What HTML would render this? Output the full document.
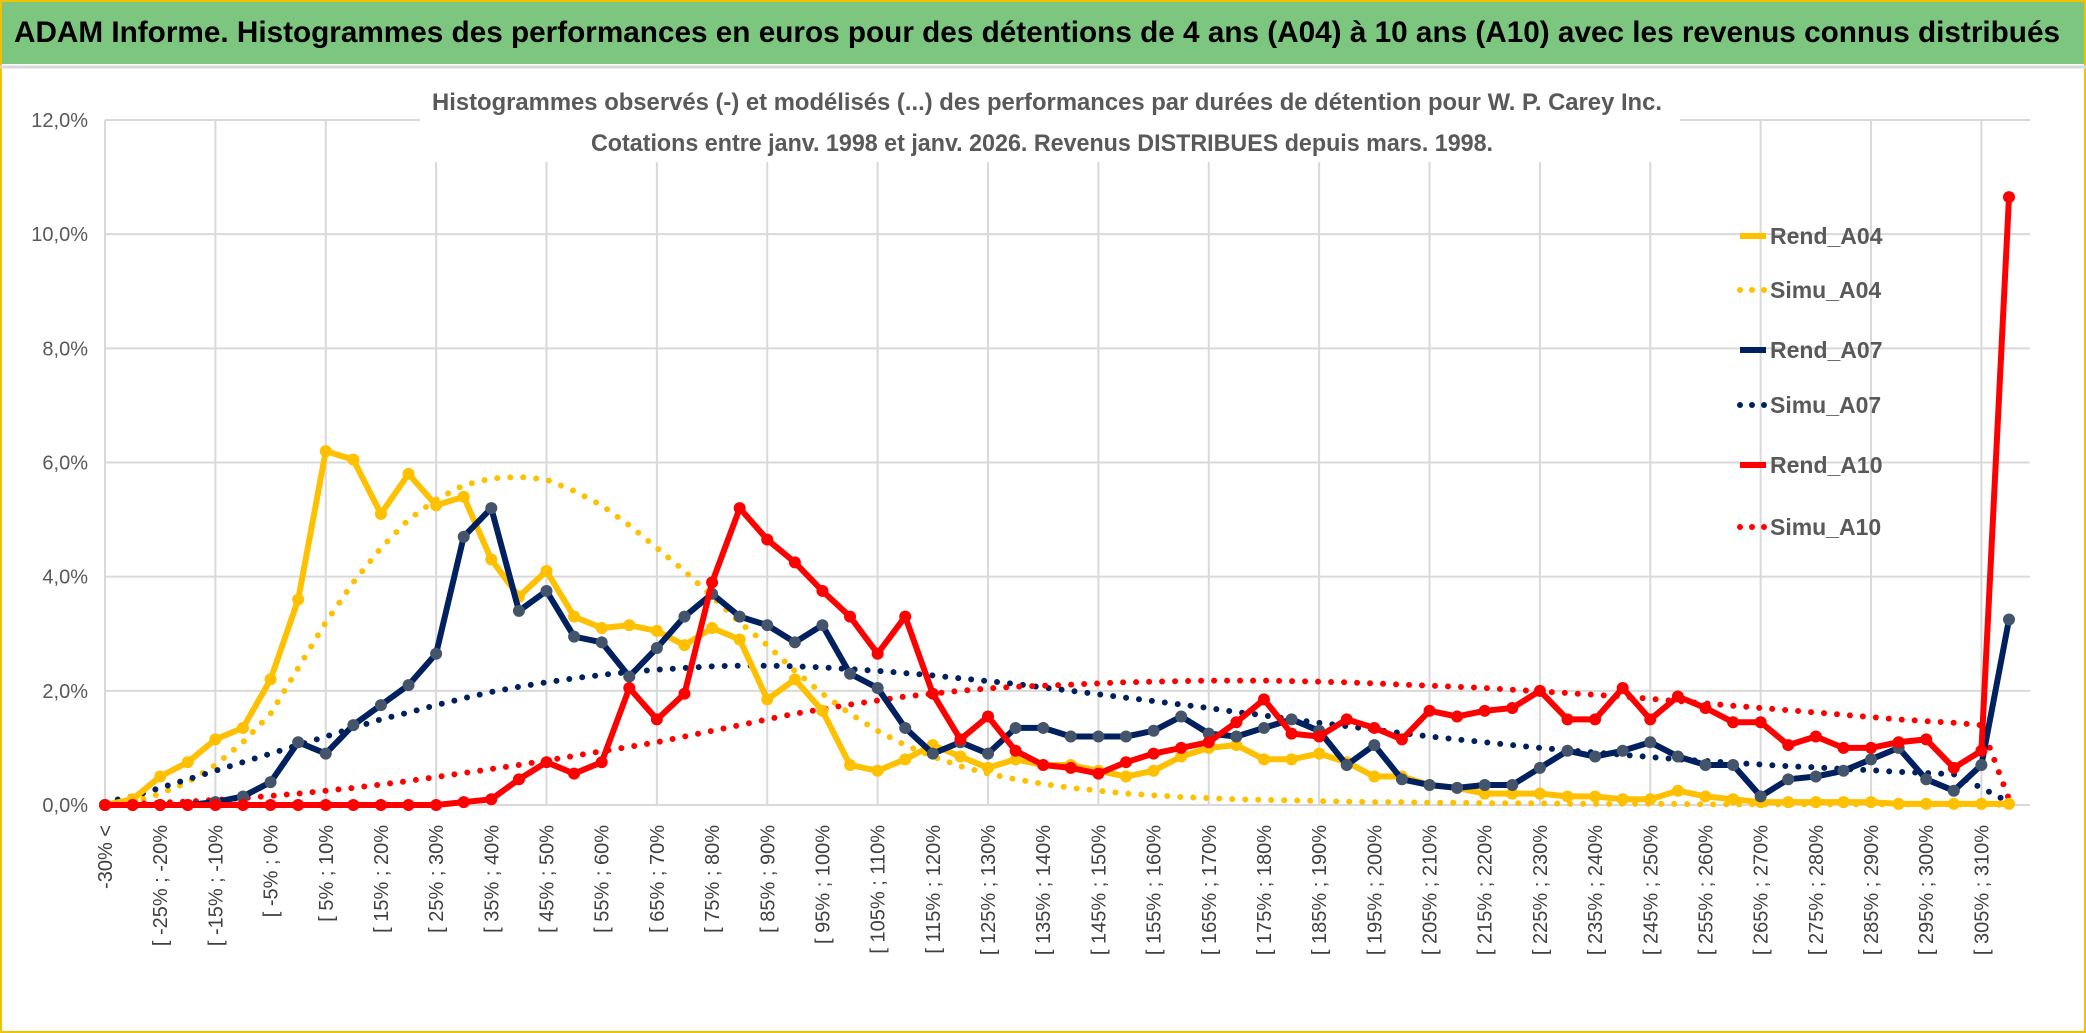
<!DOCTYPE html>
<html><head><meta charset="utf-8"><style>
html,body{margin:0;padding:0;background:#fff;}
svg{display:block;font-family:"Liberation Sans",sans-serif;}
</style></head><body>
<svg id="chart" width="2086" height="1033" viewBox="0 0 2086 1033" xmlns="http://www.w3.org/2000/svg">
<rect x="0" y="0" width="2086" height="1033" fill="#fff"/>
<rect x="1" y="1" width="2084" height="1031" fill="none" stroke="#f2c200" stroke-width="2"/>
<rect x="2" y="2" width="2082" height="62" fill="#7dc67f"/>
<line x1="0" y1="67" x2="2086" y2="67" stroke="#d9d9d9" stroke-width="3"/>
<text x="14" y="42" font-size="30" font-weight="bold" fill="#000" textLength="2046" lengthAdjust="spacingAndGlyphs">ADAM Informe. Histogrammes des performances en euros pour des détentions de 4 ans (A04) à 10 ans (A10) avec les revenus connus distribués</text>
<g id="grid"></g>
<rect x="420" y="82" width="1260" height="80" fill="#fff"/>
<text x="1047" y="110" font-size="24" font-weight="bold" fill="#595959" text-anchor="middle" textLength="1230" lengthAdjust="spacingAndGlyphs">Histogrammes observés (-) et modélisés (...) des performances par durées de détention pour W. P. Carey Inc.</text>
<text x="1042" y="151" font-size="24" font-weight="bold" fill="#595959" text-anchor="middle" textLength="902" lengthAdjust="spacingAndGlyphs">Cotations entre janv. 1998 et janv. 2026. Revenus DISTRIBUES depuis mars. 1998.</text>
<g id="yticks"></g>
<g id="xticks"></g>
<g id="series"></g>
<g id="legend"></g>
</svg>
<script>
const categories = (function(){const a=["-30% <"];for(let v=-30;v<315;v+=5){a.push("[ "+v+"% ; "+(v+5)+"%");}return a;})();
const yTicks = [0,2,4,6,8,10,12];
const yTickLabels = ["0,0%","2,0%","4,0%","6,0%","8,0%","10,0%","12,0%"];
const rendA04 = [0,0.1,0.5,0.75,1.15,1.35,2.2,3.6,6.2,6.05,5.1,5.8,5.25,5.4,4.3,3.65,4.1,3.3,3.1,3.15,3.05,2.8,3.1,2.9,1.85,2.2,1.65,0.7,0.6,0.8,1.05,0.85,0.65,0.8,0.7,0.7,0.6,0.5,0.6,0.85,1.0,1.05,0.8,0.8,0.9,0.75,0.5,0.5,0.35,0.3,0.2,0.2,0.2,0.15,0.15,0.1,0.1,0.25,0.15,0.1,0.05,0.05,0.05,0.05,0.05,0.02,0.02,0.02,0.02,0.02];
const simuA04 = [0,0.05,0.2,0.4,0.7,1.1,1.6,2.4,3.2,3.9,4.5,5.0,5.35,5.6,5.72,5.75,5.7,5.5,5.25,4.9,4.5,4.1,3.65,3.2,2.8,2.35,1.95,1.6,1.3,1.05,0.85,0.68,0.55,0.45,0.37,0.3,0.25,0.2,0.17,0.14,0.12,0.1,0.09,0.08,0.07,0.06,0.05,0.05,0.04,0.04,0.03,0.03,0.03,0.02,0.02,0.02,0.02,0.02,0.01,0.01,0.01,0.01,0.01,0.01,0.01,0.01,0.01,0.01,0.01,0];
const rendA07 = [0,0,0,0,0.05,0.15,0.4,1.1,0.9,1.4,1.75,2.1,2.65,4.7,5.2,3.4,3.75,2.95,2.85,2.25,2.75,3.3,3.7,3.3,3.15,2.85,3.15,2.3,2.05,1.35,0.9,1.1,0.9,1.35,1.35,1.2,1.2,1.2,1.3,1.55,1.25,1.2,1.35,1.5,1.3,0.7,1.05,0.45,0.35,0.3,0.35,0.35,0.65,0.95,0.85,0.95,1.1,0.85,0.7,0.7,0.15,0.45,0.5,0.6,0.8,1.0,0.45,0.25,0.7,3.25];
const simuA07 = [0.05,0.15,0.3,0.45,0.6,0.75,0.9,1.05,1.2,1.35,1.5,1.62,1.75,1.87,1.98,2.07,2.15,2.22,2.28,2.33,2.37,2.4,2.43,2.44,2.44,2.43,2.41,2.38,2.35,2.31,2.27,2.22,2.17,2.12,2.06,2.0,1.94,1.88,1.82,1.76,1.7,1.63,1.57,1.5,1.44,1.38,1.32,1.26,1.2,1.15,1.1,1.05,1.0,0.96,0.92,0.88,0.84,0.8,0.77,0.74,0.71,0.68,0.66,0.63,0.61,0.58,0.56,0.54,0.3,0.05];
const rendA10 = [0,0,0,0,0,0,0,0,0,0,0,0,0,0.05,0.1,0.45,0.75,0.55,0.75,2.05,1.5,1.95,3.9,5.2,4.65,4.25,3.75,3.3,2.65,3.3,1.95,1.15,1.55,0.95,0.7,0.65,0.55,0.75,0.9,1.0,1.1,1.45,1.85,1.25,1.2,1.5,1.35,1.15,1.65,1.55,1.65,1.7,2.0,1.5,1.5,2.05,1.5,1.9,1.7,1.45,1.45,1.05,1.2,1.0,1.0,1.1,1.15,0.65,0.95,10.65];
const simuA10 = [0,0.02,0.04,0.06,0.09,0.12,0.16,0.2,0.25,0.3,0.36,0.42,0.49,0.56,0.63,0.7,0.78,0.86,0.94,1.02,1.1,1.2,1.3,1.4,1.5,1.6,1.68,1.76,1.83,1.9,1.95,2.0,2.04,2.07,2.09,2.11,2.13,2.15,2.16,2.17,2.18,2.18,2.18,2.17,2.16,2.15,2.13,2.11,2.09,2.07,2.05,2.02,1.99,1.96,1.93,1.9,1.86,1.82,1.78,1.74,1.7,1.66,1.62,1.58,1.54,1.5,1.47,1.44,1.4,0.1];

const NS="http://www.w3.org/2000/svg";
const X0=105, X1=2009, Y0=805, Y1=120, YMAX=12;
function xPos(i){return X0+(X1-X0)*i/(categories.length-1);}
function yPos(v){return Y0-(Y0-Y1)*v/YMAX;}
function mk(tag,attrs,parent){const e=document.createElementNS(NS,tag);for(const k in attrs)e.setAttribute(k,attrs[k]);parent.appendChild(e);return e;}

const grid=document.getElementById('grid');
yTicks.forEach(function(t){
  const l=mk('line',{x1:X0,x2:2030,y1:yPos(t),y2:yPos(t),stroke:'#d9d9d9','stroke-width':2},grid);
  
  
});
for(let i=0;i<categories.length;i+=4){
  const l=mk('line',{x1:xPos(i),x2:xPos(i),y1:Y1,y2:Y0,stroke:'#d9d9d9','stroke-width':2},grid);
  
  
}
const yt=document.getElementById('yticks');
yTicks.forEach(function(t,k){
  const tx=mk('text',{x:88,y:yPos(t)+7,'font-size':20,fill:'#595959','text-anchor':'end'},yt);
  tx.textContent=yTickLabels[k];
  
  
});
const xt=document.getElementById('xticks');
for(let i=0;i<categories.length;i+=2){
  const x=xPos(i)+7;
  const tx=mk('text',{x:x,y:825,'font-size':20,fill:'#404040','text-anchor':'end',transform:'rotate(-90 '+x+' 825)'},xt);
  tx.textContent=categories[i];
  
  
}
const ser=document.getElementById('series');
function pts(arr){return arr.map(function(v,i){return xPos(i).toFixed(1)+','+yPos(v).toFixed(1);}).join(' ');}
function dotted(arr,color,name){
  const p=mk('polyline',{points:pts(arr),fill:'none',stroke:color,'stroke-width':6,'stroke-linecap':'round','stroke-dasharray':'0 13'},ser);
  
  
}
function solid(arr,color,mcolor,name){
  const g=mk('g',{},ser);
  
  
  const p=mk('polyline',{points:pts(arr),fill:'none',stroke:color,'stroke-width':6,'stroke-linejoin':'round'},g);
  
  
  arr.forEach(function(v,i){
    const c=mk('circle',{cx:xPos(i),cy:yPos(v),r:6,fill:mcolor},g);
    
    
  });
}
dotted(simuA04,'#ffc000','simu-a04');
dotted(simuA07,'#002060','simu-a07');
dotted(simuA10,'#ff0000','simu-a10');
solid(rendA04,'#ffc000','#ffc000','rend-a04');
solid(rendA07,'#002060','#44546a','rend-a07');
solid(rendA10,'#ff0000','#ff0000','rend-a10');

const leg=document.getElementById('legend');
const legendNames=["Rend_A04","Simu_A04","Rend_A07","Simu_A07","Rend_A10","Simu_A10"];
const legendColors=['#ffc000','#ffc000','#002060','#002060','#ff0000','#ff0000'];
const legendY=[236,290,350,405,465,527];
legendNames.forEach(function(n,k){
  const y=legendY[k];
  const dash=(k%2===1);
  const l=mk('line',{x1:1740,x2:1766,y1:y,y2:y,stroke:legendColors[k],'stroke-width':6,'stroke-linecap':dash?'round':'butt'},leg);
  if(dash)l.setAttribute('stroke-dasharray','0 12');
  
  
  const t=mk('text',{x:1770,y:y+8,'font-size':23,'font-weight':'bold',fill:'#595959'},leg);
  t.textContent=n;
  
  
});
</script>
</body></html>
